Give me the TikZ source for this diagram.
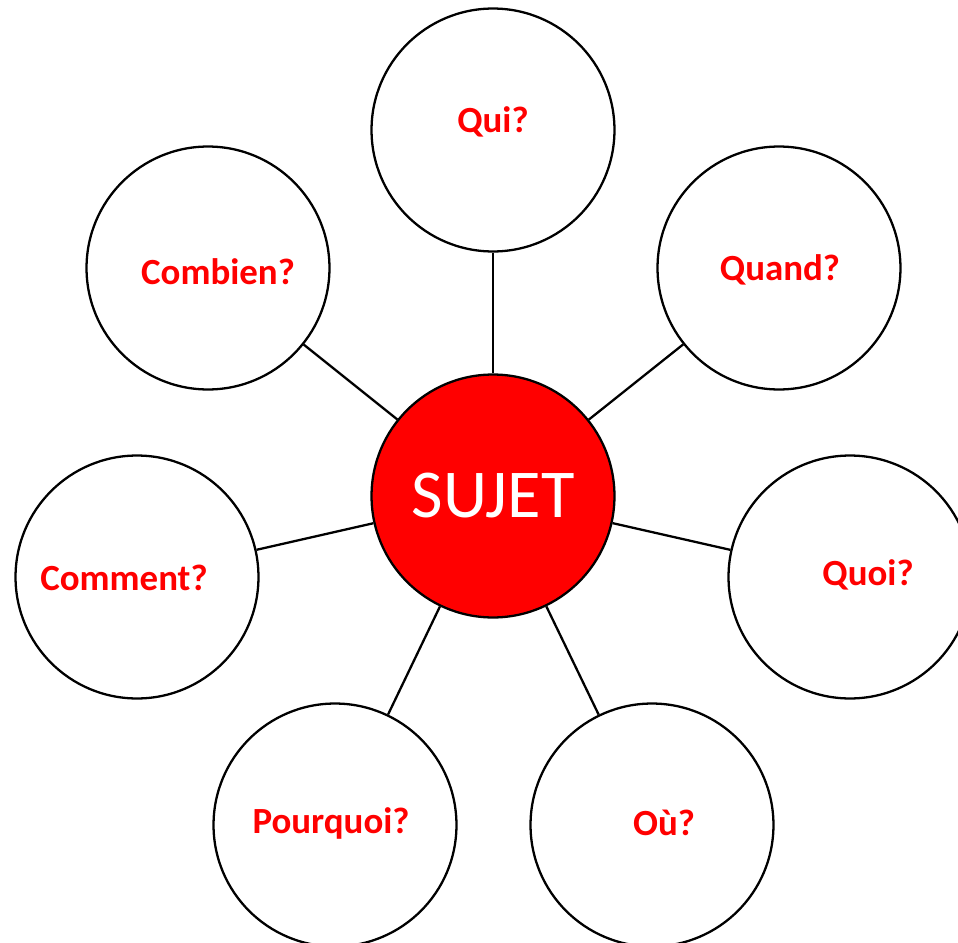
\documentclass[tikz,border=0pt]{standalone}
\usepackage{fontspec}
\setmainfont{Carlito}
\usepackage{xcolor}
\usepackage{tikz}
\usetikzlibrary{positioning}
\definecolor{sujetred}{RGB}{255, 0, 0}

\begin{document}
\begin{tikzpicture}[
        x=0.02cm, y=-0.02cm,
        % --- TikZ Styles ---
        bubble/.style={
            circle, draw, line width=1.3pt, minimum size=4.86cm, inner sep=0pt
        },
        question/.style={bubble, fill=white},
        centre/.style={bubble, fill=sujetred, text=white, font=\fontsize{39}{44}\selectfont},
        qtext/.style={text=sujetred, font=\bfseries\fontsize{21}{25}\selectfont, inner sep=0pt},
        link/.style={line width=1.3pt}
    ]
    \useasboundingbox (0,0) rectangle (958,943);

    % --- centre ---
    \node[centre] (sujet) at (493,496) {SUJET};

    % --- questions ---
    \node[question] (qui)      at (493,130) {};
    \node[question] (quand)    at (779,268) {};
    \node[question] (quoi)     at (850,577) {};
    \node[question] (ou)       at (652,825) {};
    \node[question] (pourquoi) at (335,825) {};
    \node[question] (comment)  at (137,577) {};
    \node[question] (combien)  at (208,268) {};

    \node[qtext] at (493,122) {Qui?};
    \node[qtext] at (780,270) {Quand?};
    \node[qtext] at (868,575) {Quoi?};
    \node[qtext] at (664,823) {Où?};
    \node[qtext] at (331,823) {Pourquoi?};
    \node[qtext] at (124,578) {Comment?};
    \node[qtext] at (218,272) {Combien?};

    % --- CONNECTIONS ---
    \foreach \q in {qui, quand, quoi, ou, pourquoi, comment, combien}
        \draw[link] (sujet) -- (\q);

\end{tikzpicture}
\end{document}
